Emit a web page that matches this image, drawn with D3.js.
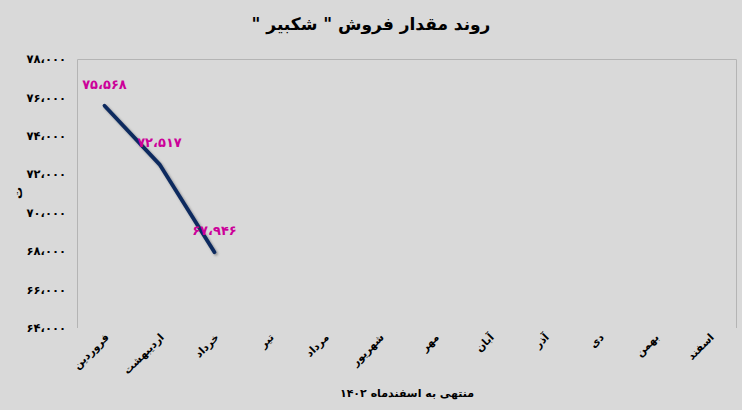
<!DOCTYPE html>
<html><head><meta charset="utf-8">
<script src="https://cdn.jsdelivr.net/npm/d3@7"></script>
<style>body{margin:0;background:#d9d9d9;} svg{display:block;}</style>
</head><body>
<script>
const chartTitle = 'روند مقدار فروش " شکبیر "';
const months = ["فروردین","اردیبهشت","خرداد","تیر","مرداد","شهریور","مهر","آبان","آذر","دی","بهمن","اسفند"];
const salesValues = [75568, 72517, 67946];
const yTicks = [64000, 66000, 68000, 70000, 72000, 74000, 76000, 78000];
const yTitle = "ت";
const xTitle = "منتهی به اسفندماه ۱۴۰۲";

const W = 742, H = 410;
const m = {left: 77, right: 5, top: 59, bottom: 82};
const font = "'DejaVu Sans', sans-serif";
const toFa = s => String(s).replace(/\d/g, d => "۰۱۲۳۴۵۶۷۸۹"[d]).replace(/,/g, "،");
const fmt = v => toFa(d3.format(",")(v));

const svg = d3.select("body").append("svg").attr("width", W).attr("height", H);
svg.append("rect").attr("width", W).attr("height", H).attr("fill", "#d9d9d9");

const defs = svg.append("defs");
const f = defs.append("filter").attr("id","sh").attr("x","-20%").attr("y","-20%").attr("width","140%").attr("height","140%");
f.append("feDropShadow").attr("dx",1.5).attr("dy",1.5).attr("stdDeviation",1).attr("flood-color","#000").attr("flood-opacity",0.35);

const x = d3.scaleBand().domain(months).range([m.left, W - m.right]);
const y = d3.scaleLinear().domain([64000, 78000]).range([H - m.bottom, m.top]);

// plot frame (top, left, right)
const x0 = m.left + 0.5, x1 = W - m.right - 0.5, y0 = m.top + 0.5, y1 = H - m.bottom;
svg.append("path").attr("d", `M${x0},${y1}V${y0}H${x1}V${y1}`)
  .attr("fill","none").attr("stroke","#b4b4b4").attr("stroke-width",1);

// y axis
const yAxis = svg.append("g").attr("transform", `translate(${m.left},0)`)
  .call(d3.axisLeft(y).tickValues(yTicks).tickFormat(fmt).tickSize(0).tickPadding(11));
yAxis.select(".domain").remove();
yAxis.selectAll("text").attr("font-family", font).attr("font-weight","bold").attr("font-size", 11.5).attr("fill","#000");

// x axis
const xAxis = svg.append("g").attr("transform", `translate(0,${H - m.bottom})`)
  .call(d3.axisBottom(x).tickSize(0).tickPadding(0));
xAxis.select(".domain").remove();
xAxis.selectAll("text")
  .attr("font-family", font).attr("font-weight","bold").attr("font-size", 10.5).attr("fill","#000")
  .attr("text-anchor","end").attr("dy", 0).attr("y", 0)
  .attr("transform", "translate(5,10) rotate(-45)");

// line
const line = d3.line().x((d,i) => x(months[i]) + x.bandwidth()/2).y(d => y(d)).curve(d3.curveLinear);
svg.append("path").datum(salesValues).attr("d", line)
  .attr("fill","none").attr("stroke","#0c2a5e").attr("stroke-width",3.8)
  .attr("stroke-linecap","round").attr("stroke-linejoin","round").attr("filter","url(#sh)");

// data labels
svg.selectAll(".lbl").data(salesValues).join("text")
  .attr("x", (d,i) => x(months[i]) + x.bandwidth()/2)
  .attr("y", d => y(d) - 17)
  .attr("text-anchor","middle")
  .attr("font-family", font).attr("font-weight","bold").attr("font-size", 13).attr("fill","#cc0099")
  .text(fmt);

// titles
svg.append("text").attr("x", 371).attr("y", 30).attr("text-anchor","middle").attr("direction","rtl")
  .attr("font-family", font).attr("font-weight","bold").attr("font-size", 17).attr("fill","#000")
  .text(chartTitle);
svg.append("text").attr("transform", `translate(22,193) rotate(-90)`).attr("text-anchor","middle")
  .attr("font-family", font).attr("font-weight","bold").attr("font-size", 12).attr("fill","#000")
  .text(yTitle);
svg.append("text").attr("x", 407).attr("y", 397).attr("text-anchor","middle").attr("direction","rtl")
  .attr("font-family", font).attr("font-weight","bold").attr("font-size", 11).attr("fill","#000")
  .text(xTitle);
</script>
</body></html>
